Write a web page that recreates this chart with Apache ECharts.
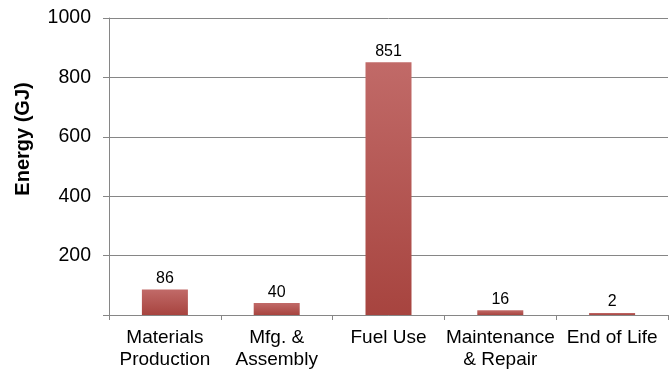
<!DOCTYPE html>
<html>
<head>
<meta charset="utf-8">
<script src="https://cdn.jsdelivr.net/npm/echarts@6/dist/echarts.min.js"></script>
<style>
  html, body { margin: 0; padding: 0; background: #fff; }
  #chart { width: 671px; height: 372px; }
</style>
</head>
<body>
<div id="chart"></div>
<script>
// Life-cycle energy use by phase
const categories = ['Materials\nProduction', 'Mfg. &\nAssembly', 'Fuel Use', 'Maintenance\n& Repair', 'End of Life'];
const energyGJ = [86, 40, 851, 16, 2];
const yTicks = [0, 200, 400, 600, 800, 1000];
const yTitle = 'Energy (GJ)';

const FONT = "'Liberation Sans', Arial, sans-serif";
const AXIS_GRAY = '#868686';

const chart = echarts.init(document.getElementById('chart'), null, { renderer: 'canvas' });

chart.setOption({
  animation: false,
  backgroundColor: '#ffffff',
  textStyle: { fontFamily: FONT },
  grid: { left: 109, right: 3, top: 18, bottom: 57, containLabel: false },
  // vertical axis title, placed a little above the plot's middle
  graphic: [{
    type: 'text',
    x: 23,
    y: 139,
    rotation: Math.PI / 2,
    style: {
      text: yTitle,
      fill: '#000',
      font: "bold 20px 'Liberation Sans', Arial, sans-serif",
      align: 'center',
      verticalAlign: 'middle'
    }
  }],
  xAxis: {
    type: 'category',
    data: categories,
    boundaryGap: true,
    axisLine: { show: true, lineStyle: { color: AXIS_GRAY, width: 1 } },
    axisTick: { show: true, length: 5, lineStyle: { color: AXIS_GRAY } },
    axisLabel: {
      interval: 0,
      color: '#000',
      fontFamily: FONT,
      fontSize: 19,
      lineHeight: 22,
      margin: 12
    },
    splitLine: { show: false }
  },
  yAxis: {
    type: 'value',
    min: yTicks[0],
    max: yTicks[yTicks.length - 1],
    interval: 200,
    axisLine: { show: true, lineStyle: { color: AXIS_GRAY, width: 1 } },
    axisTick: { show: true, length: 6, lineStyle: { color: AXIS_GRAY } },
    axisLabel: {
      color: '#000',
      fontFamily: FONT,
      fontSize: 19.5,
      margin: 18,
      formatter: v => (v === 0 ? '' : String(v))
    },
    splitLine: { show: true, lineStyle: { color: AXIS_GRAY, width: 1 } }
  },
  series: [{
    type: 'bar',
    data: energyGJ,
    barWidth: 46,
    barMinHeight: 2,
    itemStyle: {
      color: new echarts.graphic.LinearGradient(0, 0, 0, 1, [
        { offset: 0, color: '#c16a68' },
        { offset: 1, color: '#a7443f' }
      ])
    },
    label: {
      show: true,
      position: 'top',
      distance: 3,
      color: '#000',
      fontFamily: FONT,
      fontSize: 16
    }
  }]
});
</script>
</body>
</html>
